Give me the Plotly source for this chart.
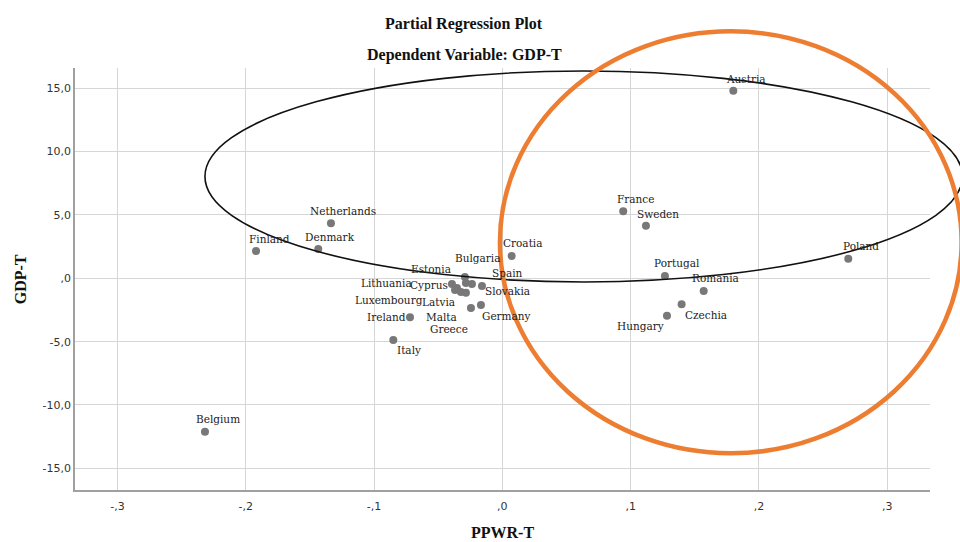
import plotly.graph_objects as go

# ---- data ----
countries = ["Austria", "France", "Sweden", "Poland", "Portugal", "Romania", "Czechia",
             "Hungary", "Croatia", "Bulgaria", "Estonia", "Lithuania", "Cyprus",
             "Luxembourg", "Latvia", "Spain", "Slovakia", "Malta", "Greece", "Germany",
             "Ireland", "Italy", "Belgium", "Finland", "Denmark", "Netherlands"]
ppwr_t = [0.180, 0.0942, 0.1119, 0.2696, 0.1267, 0.1569, 0.1397,
          0.1283, 0.0072, -0.0292, -0.0284, -0.0393, -0.0354,
          -0.0369, -0.0323, -0.0237, -0.0159, -0.0284, -0.0245, -0.0167,
          -0.0720, -0.0850, -0.2318, -0.1920, -0.1435, -0.1336]
gdp_t = [14.81, 5.29, 4.15, 1.55, 0.18, -1.00, -2.05,
         -2.95, 1.76, 0.10, -0.37, -0.45, -0.77,
         -0.92, -1.08, -0.45, -0.61, -1.15, -2.34, -2.11,
         -3.08, -4.87, -12.11, 2.15, 2.31, 4.34]

x_tickvals = [-0.3, -0.2, -0.1, 0.0, 0.1, 0.2, 0.3]
x_ticktext = ["-,3", "-,2", "-,1", ",0", ",1", ",2", ",3"]
y_tickvals = [-15, -10, -5, 0, 5, 10, 15]
y_ticktext = ["-15,0", "-10,0", "-5,0", ",0", "5,0", "10,0", "15,0"]

# label pixel offsets (style only): (dx right, dy down)
label_offsets = [(13, -12), (12, -12), (12, -12), (13, -13), (12, -13), (12, -13), (24, 11),
                 (-26, 10), (11, -13), (13, -19), (-35, -14), (-65, -1), (-28, -3),
                 (-66, 10), (-22, 10), (36, -11), (26, 5), (-24, 24), (-22, 21), (26, 11),
                 (-23, 0), (16, 10), (13, -13), (13, -12), (12, -12), (12, -12)]

fig = go.Figure()
fig.add_trace(go.Scatter(
    x=ppwr_t, y=gdp_t, mode="markers",
    marker=dict(size=8, color="#787878", line=dict(width=0)),
    hovertext=countries, showlegend=False,
))

label_font = dict(family="DejaVu Serif", size=10.5, color="#222222")
annotations = []
for name, xv, yv, (dx, dy) in zip(countries, ppwr_t, gdp_t, label_offsets):
    annotations.append(dict(x=xv, y=yv, xref="x", yref="y", text=name, showarrow=False,
                            xshift=dx, yshift=-dy, font=label_font,
                            xanchor="center", yanchor="middle"))

title_font = dict(family="Liberation Serif", size=16, color="#111111")
annotations += [
    dict(x=0.455, y=1.104, xref="paper", yref="paper", text="<b>Partial Regression Plot</b>",
         showarrow=False, font=title_font, xanchor="center", yanchor="middle"),
    dict(x=0.455, y=1.031, xref="paper", yref="paper", text="<b>Dependent Variable: GDP-T</b>",
         showarrow=False, font=title_font, xanchor="center", yanchor="middle"),
    dict(x=0.5, y=-0.1, xref="paper", yref="paper", text="<b>PPWR-T</b>",
         showarrow=False, font=title_font, xanchor="center", yanchor="middle"),
    dict(x=-0.064, y=0.5, xref="paper", yref="paper", text="<b>GDP-T</b>", textangle=-90,
         showarrow=False, font=title_font, xanchor="center", yanchor="middle"),
]

shapes = [
    dict(type="circle", xref="paper", yref="paper", x0=0.152, x1=1.038, y0=0.493, y1=0.993,
         line=dict(color="#111111", width=1.6), layer="above"),
    dict(type="circle", xref="paper", yref="paper", x0=0.497, x1=1.037, y0=0.087, y1=1.087,
         line=dict(color="#ED7D31", width=4.5), layer="above"),
]

axis_common = dict(showgrid=True, gridcolor="#d6d6d6", gridwidth=1, zeroline=False,
                   showline=True, linecolor="#a0a0a0", linewidth=1.5, ticks="",
                   automargin=False,
                   tickfont=dict(family="DejaVu Sans", size=11, color="#333333"))

fig.update_layout(
    width=960, height=542,
    margin=dict(l=75, r=30, t=68, b=52, autoexpand=False),
    paper_bgcolor="white", plot_bgcolor="white",
    xaxis=dict(range=[-0.3331, 0.3333], tickmode="array", tickvals=x_tickvals,
               ticktext=x_ticktext, ticklabelstandoff=5, **axis_common),
    yaxis=dict(range=[-16.71, 16.60], tickmode="array", tickvals=y_tickvals,
               ticktext=y_ticktext, **axis_common),
    annotations=annotations,
    shapes=shapes,
)

fig.write_html("out.html")
